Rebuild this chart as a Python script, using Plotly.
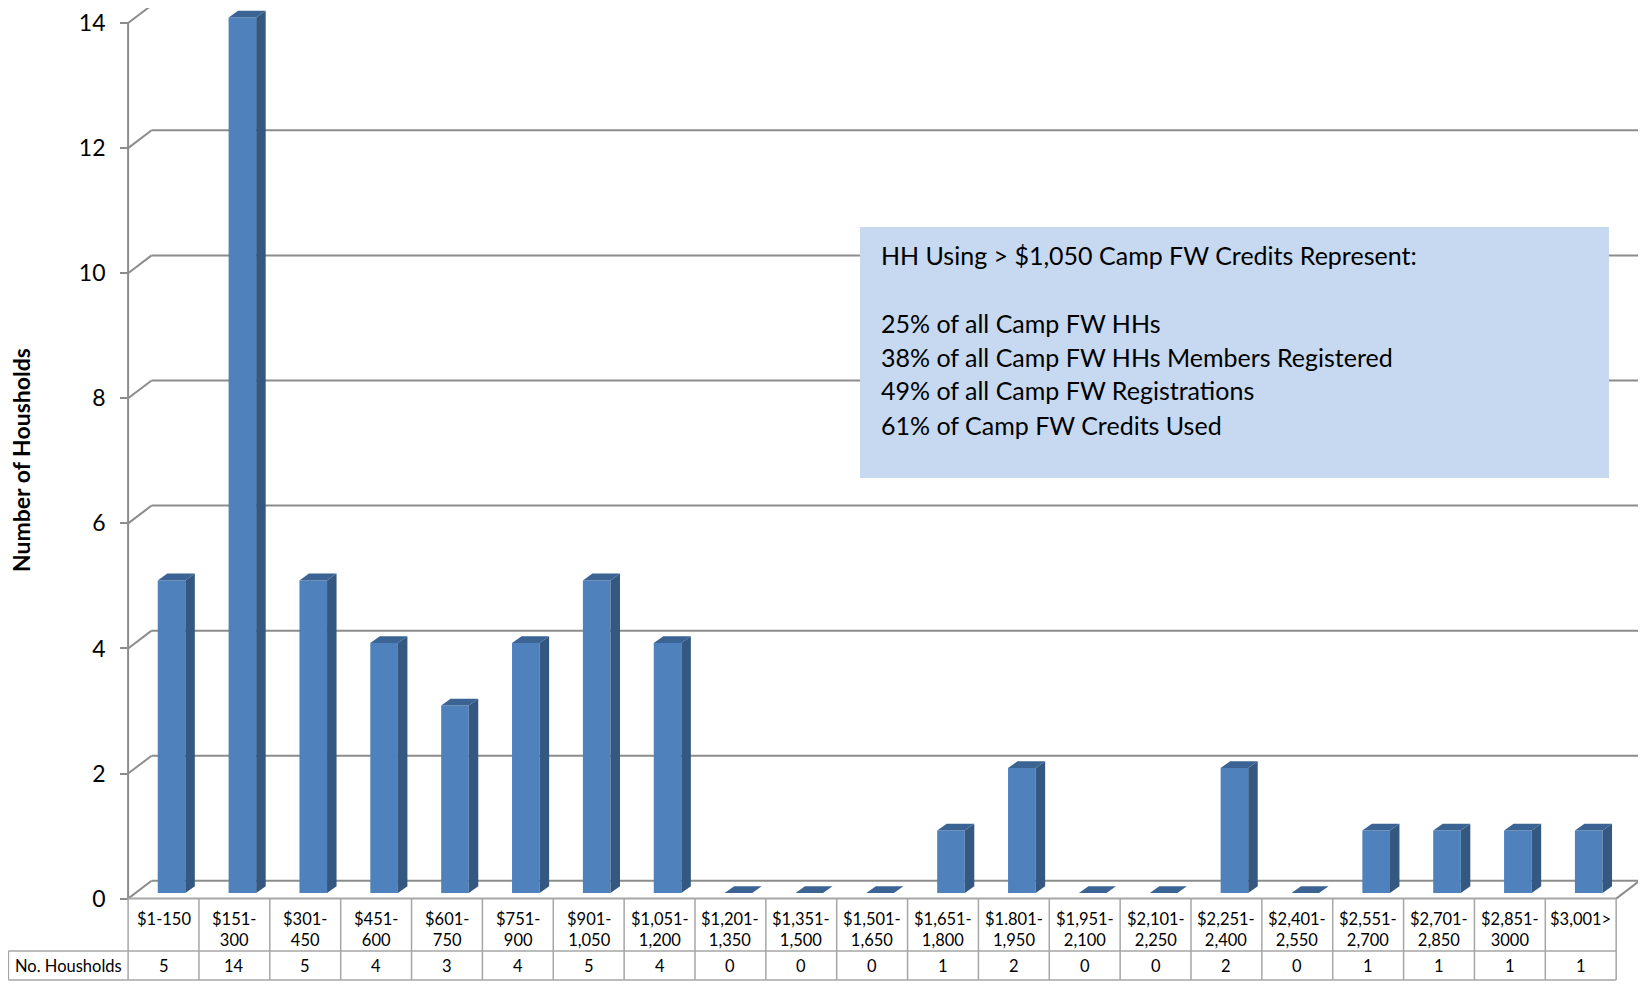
import plotly.graph_objects as go

# ---------------- data ----------------
categories = ["$1-150", "$151-300", "$301-450", "$451-600", "$601-750", "$751-900",
              "$901-1,050", "$1,051-1,200", "$1,201-1,350", "$1,351-1,500", "$1,501-1,650",
              "$1,651-1,800", "$1.801-1,950", "$1,951-2,100", "$2,101-2,250", "$2,251-2,400",
              "$2,401-2,550", "$2,551-2,700", "$2,701-2,850", "$2,851-3000", "$3,001>"]
households = [5, 14, 5, 4, 3, 4, 5, 4, 0, 0, 0, 1, 2, 0, 0, 2, 0, 1, 1, 1, 1]
y_ticks = [0, 2, 4, 6, 8, 10, 12, 14]
y_title = "Number of Housholds"
table_row_label = "No. Housholds"
box_title = "HH Using > $1,050 Camp FW Credits Represent:"
box_lines = ["25% of all Camp FW HHs",
             "38% of all Camp FW HHs Members Registered",
             "49% of all Camp FW Registrations",
             "61% of Camp FW Credits Used"]

# ---------------- geometry (page pixels -> figure -> axis units) ----------------
OFF = 8                       # default body margin of the html page
W, H = 1646 - OFF, 985 - OFF  # figure size


def px(v):
    return v - OFF


X0PX, CW = px(128.1), 70.86      # left edge of first table column, column width
Y0PX, UH = px(898.6), 62.54      # pixel of value 0 on front plane, pixels per unit
n = len(categories)
xr = [-0.5 - X0PX / CW, -0.5 + (W - X0PX) / CW]
yr = [-(H - Y0PX) / UH, Y0PX / UH]


def ydat(p):
    return (Y0PX - px(p)) / UH


DXW, DYW = 23.5 / CW, 17.8 / UH        # back wall depth
FX, FY = 8.0 / CW, 5.5 / UH            # bar face offset from front plane
FW = 27.6 / CW                          # bar face width
DXB, DYB = 9.5 / CW, 6.8 / UH          # bar depth

FONT = "Lato, 'Open Sans', sans-serif"
GRID = "#8C8C8C"
TBL = "#A6A6A6"

fig = go.Figure()

# front faces
fig.add_trace(go.Bar(x=[i + FX for i in range(n)], y=households, base=FY, width=FW,
                     marker=dict(color="#4F81BD", line=dict(width=0)),
                     hoverinfo="skip", showlegend=False))

# side faces and tops
sx, sy, tx, ty = [], [], [], []
for i, v in enumerate(households):
    xl = i + FX - FW / 2
    xrr = i + FX + FW / 2
    sx += [xrr, xrr + DXB, xrr + DXB, xrr, xrr, None]
    sy += [FY, FY + DYB, FY + v + DYB, FY + v, FY, None]
    tx += [xl, xrr, xrr + DXB, xl + DXB, xl, None]
    ty += [FY + v, FY + v, FY + v + DYB, FY + v + DYB, FY + v, None]
fig.add_trace(go.Scatter(x=sx, y=sy, mode="lines", fill="toself", fillcolor="#34587F",
                         line=dict(width=0, color="#34587F"), hoverinfo="skip", showlegend=False))
fig.add_trace(go.Scatter(x=tx, y=ty, mode="lines", fill="toself", fillcolor="#3B6494",
                         line=dict(width=0, color="#3B6494"), hoverinfo="skip", showlegend=False))

shapes = []
# back-wall gridlines and side-wall connectors
for t in y_ticks:
    shapes.append(dict(type="line", xref="x", yref="y", x0=-0.5 + DXW, y0=t + DYW,
                       x1=n - 0.5 + DXW + 0.04, y1=t + DYW, layer="below",
                       line=dict(color=GRID, width=2)))
    shapes.append(dict(type="line", xref="x", yref="y", x0=-0.5, y0=t, x1=-0.5 + DXW, y1=t + DYW,
                       layer="below", line=dict(color=GRID, width=2)))
# floor right diagonal
shapes.append(dict(type="line", xref="x", yref="y", x0=n - 0.5, y0=0, x1=n - 0.5 + DXW, y1=DYW,
                   layer="below", line=dict(color=GRID, width=2)))
# front vertical axis line
shapes.append(dict(type="line", xref="x", yref="y", x0=-0.5, y0=0, x1=-0.5, y1=max(y_ticks),
                   layer="below", line=dict(color=GRID, width=2)))

# table
TR = ydat(951.0)
TB = ydat(980.0)
LX = -0.5 - (X0PX - px(8.4)) / CW
shapes.append(dict(type="line", xref="x", yref="y", x0=-0.5, y0=0, x1=n - 0.5, y1=0,
                   line=dict(color=TBL, width=2)))
for k in range(n + 1):
    shapes.append(dict(type="line", xref="x", yref="y", x0=-0.5 + k, y0=0, x1=-0.5 + k, y1=TB,
                       line=dict(color=TBL, width=1.5)))
for yy in (TR, TB):
    shapes.append(dict(type="line", xref="x", yref="y", x0=LX, y0=yy, x1=n - 0.5, y1=yy,
                       line=dict(color=TBL, width=1.5)))
shapes.append(dict(type="line", xref="x", yref="y", x0=LX, y0=TR, x1=LX, y1=TB,
                   line=dict(color=TBL, width=1.5)))

# text box
shapes.append(dict(type="rect", xref="paper", yref="paper", x0=px(860) / W, x1=px(1609) / W,
                   y0=1 - px(478) / H, y1=1 - px(227) / H, fillcolor="#C6D9F1",
                   line=dict(width=0), layer="above"))

annotations = []


def wrap(s):
    if "-" in s and len(s) > 7:
        a, b = s.split("-", 1)
        return a + "-<br>" + b
    return s


for i, c in enumerate(categories):
    annotations.append(dict(x=i, y=ydat(907.0), xref="x", yref="y", text=wrap(c),
                            showarrow=False, xanchor="center", yanchor="top",
                            font=dict(family=FONT, size=16.5, color="#000000")))
    annotations.append(dict(x=i, y=ydat(966.0), xref="x", yref="y", text=str(households[i]),
                            showarrow=False, xanchor="center", yanchor="middle",
                            font=dict(family=FONT, size=16.5, color="#000000")))
annotations.append(dict(x=(LX - 0.5) / 2, y=ydat(966.0), xref="x", yref="y",
                        text=table_row_label, showarrow=False, xanchor="center", yanchor="middle",
                        font=dict(family=FONT, size=16.5, color="#000000")))

annotations.append(dict(x=px(21) / W, y=1 - px(460) / H, xref="paper", yref="paper",
                        text="<b>" + y_title + "</b>", textangle=-90, showarrow=False,
                        xanchor="center", yanchor="middle", borderpad=0,
                        font=dict(family=FONT, size=23, color="#000000")))

box_y = [255.1, 323.3, 356.9, 390.5, 425.1]
for txt, yy in zip([box_title] + box_lines, box_y):
    annotations.append(dict(x=px(879) / W, y=1 - px(yy) / H, xref="paper", yref="paper", text=txt,
                            showarrow=False, xanchor="left", yanchor="middle",
                            font=dict(family=FONT, size=25, color="#000000")))

fig.update_layout(
    width=W, height=H,
    margin=dict(l=0, r=0, t=0, b=0),
    paper_bgcolor="white", plot_bgcolor="white",
    template="none",
    showlegend=False,
    shapes=shapes,
    annotations=annotations,
    xaxis=dict(domain=[0, 1], range=xr, visible=False, showgrid=False, zeroline=False,
               fixedrange=True),
    yaxis=dict(domain=[0, 1], range=yr, anchor="free", position=X0PX / W,
               tickmode="array", tickvals=y_ticks, ticktext=[str(t) for t in y_ticks],
               ticks="outside", ticklen=8, tickwidth=2, tickcolor=GRID,
               showline=False, showgrid=False, zeroline=False, automargin=False,
               ticklabelstandoff=10,
               tickfont=dict(family=FONT, size=23, color="#000000"), fixedrange=True),
)

fig.write_html("out.html")
